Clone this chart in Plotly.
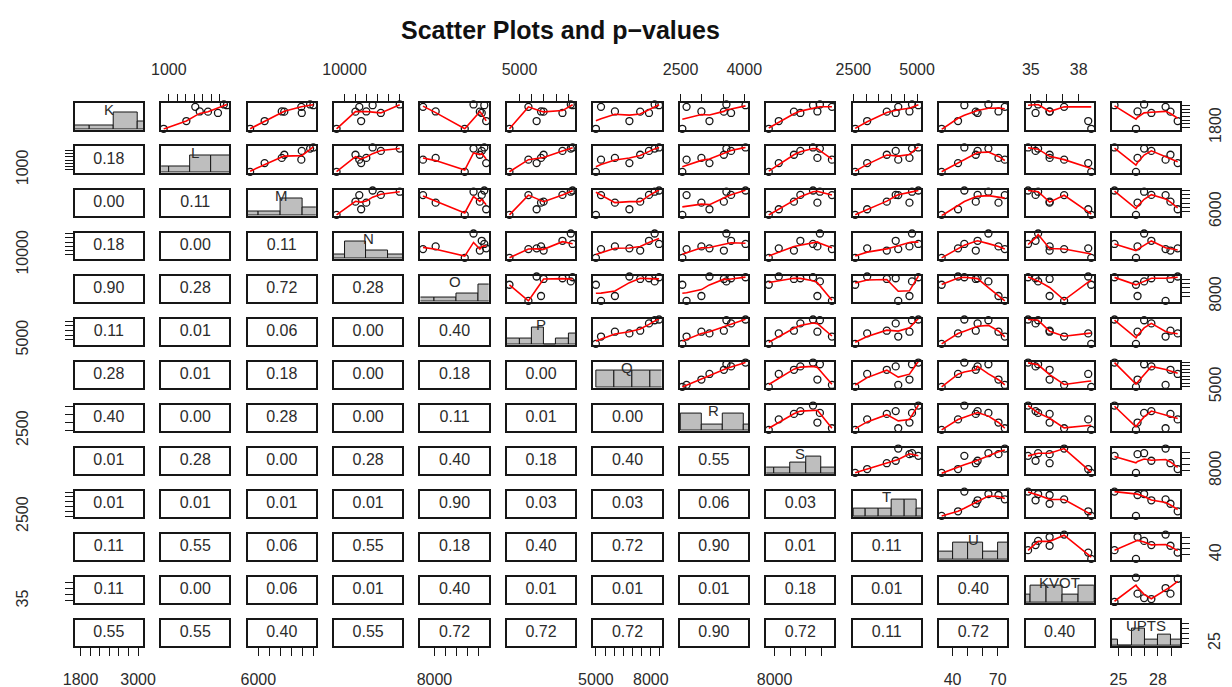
import numpy as np
import plotly.graph_objects as go

names = ["K", "L", "M", "N", "O", "P", "Q", "R", "S", "T", "U", "KVOT", "UPTS"]

K = [3010, 1730, 2670, 3050, 2590, 2920, 2660, 2150]
L = [2370, 880, 1730, 2300, 2160, 1625, 1925, 1415]
M = [11000, 5250, 8130, 10710, 9950, 9910, 8360, 6570]
N = [12570, 9270, 11990, 15050, 13320, 11350, 11000, 11520]
O = [12490, 10730, 8110, 11520, 12260, 6970, 12090, 12660]
P = [9340, 4180, 6760, 9190, 8510, 5730, 6970, 6400]
Q = [8450, 5000, 6040, 8210, 7900, 5280, 7420, 6830]
R = [4030, 2540, 2990, 3580, 3690, 2640, 3520, 3180]
S = [10460, 7630, 10740, 10900, 9650, 11670, 9240, 8270]
T = [5050, 2570, 4700, 4800, 4160, 4260, 3810, 3040]
U = [47.8, 32.7, 70.5, 63.8, 56.6, 74.7, 55.4, 43.6]
KVOT = [34.83, 38.79, 36.18, 35.46, 35.3, 37.09, 36.18, 38.6]
UPTS = [24.7, 26.33, 26.45, 26.95, 27.5, 28.58, 28.95, 29.5]

data = [K, L, M, N, O, P, Q, R, S, T, U, KVOT, UPTS]

# p-values shown in the lower triangle (row i, columns 0..i-1)
pvals = [
    [],
    [0.18],
    [0.00, 0.11],
    [0.18, 0.00, 0.11],
    [0.90, 0.28, 0.72, 0.28],
    [0.11, 0.01, 0.06, 0.00, 0.40],
    [0.28, 0.01, 0.18, 0.00, 0.18, 0.00],
    [0.40, 0.00, 0.28, 0.00, 0.11, 0.01, 0.00],
    [0.01, 0.28, 0.00, 0.28, 0.40, 0.18, 0.40, 0.55],
    [0.01, 0.01, 0.01, 0.01, 0.90, 0.03, 0.03, 0.06, 0.03],
    [0.11, 0.55, 0.06, 0.55, 0.18, 0.40, 0.72, 0.90, 0.01, 0.11],
    [0.11, 0.00, 0.06, 0.01, 0.40, 0.01, 0.01, 0.01, 0.18, 0.01, 0.40],
    [0.55, 0.55, 0.40, 0.55, 0.72, 0.72, 0.72, 0.90, 0.72, 0.11, 0.72, 0.40],
]

# axis ticks per variable, and which labels survive on the outer axes
ticks = [
    [1800, 2000, 2200, 2400, 2600, 2800, 3000],
    [1000, 1200, 1400, 1600, 1800, 2000, 2200],
    [6000, 7000, 8000, 9000, 10000, 11000],
    [10000, 11000, 12000, 13000, 14000, 15000],
    [8000, 9000, 10000, 11000, 12000],
    [5000, 6000, 7000, 8000, 9000],
    [5000, 5500, 6000, 6500, 7000, 7500, 8000, 8500],
    [2500, 3000, 3500, 4000],
    [8000, 9000, 10000, 11000],
    [2500, 3000, 3500, 4000, 4500, 5000],
    [40, 50, 60, 70],
    [35, 36, 37, 38],
    [25, 26, 27, 28, 29],
]
x_labels = [["1800", "3000"], ["1000"], ["6000"], ["10000"], ["8000"], ["5000"],
            ["5000", "8000"], ["2500", "4000"], ["8000"], ["2500", "5000"],
            ["40", "70"], ["35", "38"], ["25", "28"]]
y_labels = [["1800"], ["1000"], ["6000"], ["10000"], ["8000"], ["5000"], ["5000"],
            ["2500"], ["8000"], ["2500"], ["40"], ["35"], ["25"]]

# histogram bin widths
hist_step = [500, 500, 2000, 2000, 2000, 1000, 1000, 500, 1000, 500, 10, 1, 1]

TITLE = "Scatter Plots and p\u2212values"

# ---- helpers ----
FONT = "Liberation Sans, Arial, sans-serif"
FRAME = "#161616"
TXT = "#2b2b2b"
W, H = 1232, 687
n = len(names)
X0, XP, PW = 51, 88.67, 70
Y0, YP, PH = 96, 44.17, 27


def xdom(j):
    a = X0 + j * XP
    return [a / W, (a + PW) / W]


def ydom(i):
    t = Y0 + i * YP
    return [1 - (t + PH) / H, 1 - t / H]


def padded(v):
    lo, hi = min(v), max(v)
    d = 0.04 * (hi - lo)
    return [lo - d, hi + d]


def lowess(x, y, f=2 / 3, iters=3):
    x = np.asarray(x, float)
    y = np.asarray(y, float)
    o = np.argsort(x, kind="mergesort")
    x, y = x[o], y[o]
    m = len(x)
    ns = max(min(int(f * m + 1e-7), m), 2)
    span = x[-1] - x[0]
    rw = np.ones(m)
    fit = y.copy()
    for it in range(iters + 1):
        for i in range(m):
            d = np.abs(x - x[i])
            h = np.sort(d)[ns - 1]
            if h > 0:
                u = d / h
                w = np.where(u < 0.999, (1 - u ** 3) ** 3, 0.0)
                w[u <= 0.001] = 1.0
            else:
                w = (d == 0).astype(float)
            w = w * rw
            if w.sum() <= 0:
                fit[i] = y[i]
                continue
            w = w / w.sum()
            xb = (w * x).sum()
            c = (w * (x - xb) ** 2).sum()
            if h > 0 and np.sqrt(c) > 0.001 * span:
                w = w * ((x[i] - xb) * (x - xb) / c + 1)
            fit[i] = (w * y).sum()
        if it == iters:
            break
        res = y - fit
        cmad = 6 * np.median(np.abs(res))
        if cmad < 1e-7 * np.mean(np.abs(y)):
            break
        u = np.abs(res) / cmad
        rw = np.where(u < 0.999, (1 - u ** 2) ** 2, 0.0)
        rw[u <= 0.001] = 1.0
    return x, fit


def hist_counts(v, step):
    v = np.asarray(v, float)
    lo = np.floor(v.min() / step) * step
    hi = np.ceil(v.max() / step) * step
    edges = np.arange(lo, hi + step / 2, step)
    counts = np.array([((v > a) & (v <= b)).sum() for a, b in zip(edges[:-1], edges[1:])])
    counts[0] += (v == edges[0]).sum()
    return edges, counts


def tick_text(vals, shown):
    return [str(t) if str(t) in shown else "" for t in vals]


base_axis = dict(showline=True, mirror=True, linecolor=FRAME, linewidth=1.8,
                 showgrid=False, zeroline=False, ticks="", showticklabels=False,
                 fixedrange=True)
tick_style = dict(ticks="outside", ticklen=8, tickwidth=1.2, tickcolor=FRAME,
                  showticklabels=True, tickfont=dict(family=FONT, size=16, color=TXT),
                  ticklabelstandoff=10)

ranges = [padded(v) for v in data]

fig = go.Figure()
axes = {}
annotations = []

for i in range(n):
    for j in range(n):
        k = i * n + j + 1
        s = "" if k == 1 else str(k)
        xa = dict(base_axis, domain=xdom(j), anchor="y" + s, range=ranges[j])
        ya = dict(base_axis, domain=ydom(i), anchor="x" + s, range=ranges[i])

        if i == 0 and j % 2 == 1:
            xa.update(tick_style, side="top", tickvals=ticks[j],
                      ticktext=tick_text(ticks[j], x_labels[j]), ticklabelstandoff=12)
        if i == n - 1 and j % 2 == 0:
            xa.update(tick_style, side="bottom", tickvals=ticks[j],
                      ticktext=tick_text(ticks[j], x_labels[j]))
        if j == 0 and i % 2 == 1:
            ya.update(tick_style, side="left", tickangle=-90, tickvals=ticks[i],
                      ticktext=tick_text(ticks[i], y_labels[i]), ticklabelstandoff=30)
        if j == n - 1 and i % 2 == 0 and i != j:
            ya.update(tick_style, side="right", tickangle=-90, tickvals=ticks[i],
                      ticktext=tick_text(ticks[i], y_labels[i]), ticklabelstandoff=12)

        if i == j:
            ya["range"] = [0, 1.5]
            edges, counts = hist_counts(data[i], hist_step[i])
            fig.add_trace(go.Bar(
                x=(edges[:-1] + edges[1:]) / 2, y=counts / counts.max(),
                width=hist_step[i], base=0,
                marker=dict(color="#bebebe", line=dict(color=FRAME, width=1)),
                xaxis="x" + s, yaxis="y" + s, showlegend=False, hoverinfo="skip"))
            annotations.append(dict(
                text=names[i], xref=f"x{s} domain", yref=f"y{s} domain",
                x=0.5, y=1, yanchor="middle", yshift=-6, showarrow=False,
                font=dict(family=FONT, size=15, color=TXT)))
        elif j > i:
            fig.add_trace(go.Scatter(
                x=data[j], y=data[i], mode="markers",
                marker=dict(symbol="circle-open", size=7, color=FRAME,
                            line=dict(width=1.3, color=FRAME)),
                xaxis="x" + s, yaxis="y" + s, showlegend=False, cliponaxis=False))
            lx, ly = lowess(data[j], data[i])
            fig.add_trace(go.Scatter(
                x=lx, y=ly, mode="lines", line=dict(color="#ff0000", width=1.6),
                xaxis="x" + s, yaxis="y" + s, showlegend=False, hoverinfo="skip"))
        else:
            fig.add_trace(go.Scatter(
                x=[sum(ranges[j]) / 2], y=[sum(ranges[i]) / 2], mode="text",
                text=[f"{pvals[i][j]:.2f}"],
                textfont=dict(family=FONT, size=16, color=TXT),
                xaxis="x" + s, yaxis="y" + s, showlegend=False, hoverinfo="skip"))

        axes["xaxis" + s] = xa
        axes["yaxis" + s] = ya

# right-hand tick axis for the last diagonal panel (UPTS scale)
kd = n * n
kx = n * n + 1
axes[f"yaxis{kx}"] = dict(tick_style, overlaying=f"y{kd}", anchor=f"x{kd}", side="right",
                          range=ranges[n - 1], tickangle=-90, tickvals=ticks[n - 1],
                          ticktext=tick_text(ticks[n - 1], y_labels[n - 1]),
                          ticklabelstandoff=12, showline=False, showgrid=False,
                          zeroline=False, fixedrange=True)
fig.add_trace(go.Scatter(x=[sum(ranges[n - 1]) / 2], y=[sum(ranges[n - 1]) / 2],
                         mode="markers", marker=dict(opacity=0),
                         xaxis=f"x{kd}", yaxis=f"y{kx}", showlegend=False,
                         hoverinfo="skip"))

annotations.append(dict(text=f"<b>{TITLE}</b>", xref="paper", yref="paper",
                        x=549 / W, y=1 - 21 / H, xanchor="center", yanchor="middle",
                        showarrow=False, font=dict(family=FONT, size=25, color="#111")))

fig.update_layout(
    width=W, height=H,
    margin=dict(l=0, r=0, t=0, b=0),
    plot_bgcolor="white", paper_bgcolor="white",
    font=dict(family=FONT, color=TXT),
    annotations=annotations,
    bargap=0,
    **axes,
)

fig.write_html("out.html")
